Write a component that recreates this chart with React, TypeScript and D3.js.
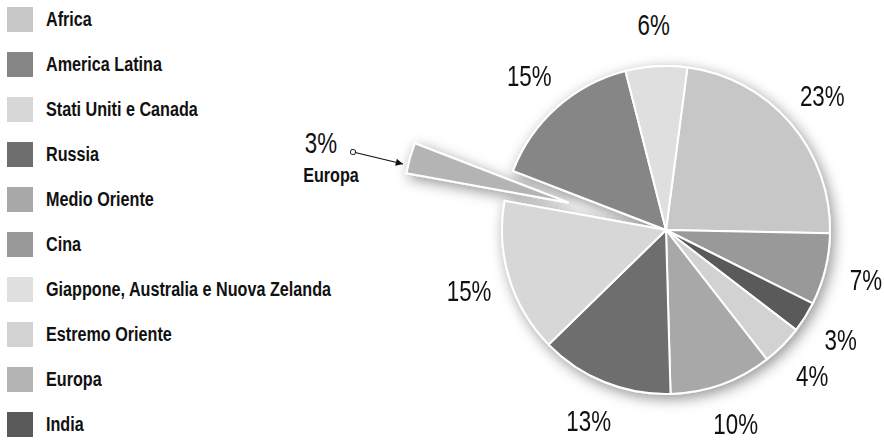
import React from "react";
import * as d3 from "d3";

const regions = [
  "Africa",
  "America Latina",
  "Stati Uniti e Canada",
  "Russia",
  "Medio Oriente",
  "Cina",
  "Giappone, Australia e Nuova Zelanda",
  "Estremo Oriente",
  "Europa",
  "India",
];
const shares = [23, 15, 15, 13, 10, 7, 6, 4, 3, 3];
const fills = [
  "#c7c7c7",
  "#868686",
  "#d7d7d7",
  "#6e6e6e",
  "#a8a8a8",
  "#999999",
  "#dfdfdf",
  "#d2d2d2",
  "#b4b4b4",
  "#5a5a5a",
];
const pieOrder = [
  "Africa",
  "Cina",
  "India",
  "Estremo Oriente",
  "Medio Oriente",
  "Russia",
  "Stati Uniti e Canada",
  "Europa",
  "America Latina",
  "Giappone, Australia e Nuova Zelanda",
];
const explodedRegion = "Europa";

const W = 884;
const H = 440;
const cx = 666;
const cy = 230;
const R = 164;
const labelR = 206;
const explodeDist = 102;
const startDeg = 7.5;
const FONT = "'Liberation Sans', Arial, sans-serif";
const SX = 0.77;

type Datum = { name: string; value: number; fill: string };

function NarrowText(props: {
  x: number;
  y: number;
  size: number;
  bold?: boolean;
  anchor?: "start" | "middle" | "end";
  dy?: string;
  children: React.ReactNode;
}) {
  const { x, y, size, bold, anchor = "start", dy, children } = props;
  return (
    <g transform={`translate(${x},${y}) scale(${SX},1)`}>
      <text
        x={0}
        y={0}
        dy={dy}
        fontSize={size}
        fontWeight={bold ? "bold" : "normal"}
        textAnchor={anchor}
        fill="#111"
      >
        {children}
      </text>
    </g>
  );
}

export default function App() {
  const data: Datum[] = pieOrder.map((n) => {
    const i = regions.indexOf(n);
    return { name: n, value: shares[i], fill: fills[i] };
  });
  const start = (startDeg * Math.PI) / 180;
  const pie = d3
    .pie<Datum>()
    .sort(null)
    .value((d) => d.value)
    .startAngle(start)
    .endAngle(start + 2 * Math.PI);
  const arcs = pie(data);
  const arc = d3.arc<d3.PieArcDatum<Datum>>().innerRadius(0).outerRadius(R);
  const labelArc = d3.arc<d3.PieArcDatum<Datum>>().innerRadius(labelR).outerRadius(labelR);

  const legendY = d3.scaleBand<string>().domain(regions).range([0, 450]).paddingInner(0);

  const ex = arcs.find((a) => a.data.name === explodedRegion)!;
  const exMid = (ex.startAngle + ex.endAngle) / 2;
  const exDx = Math.sin(exMid) * explodeDist;
  const exDy = -Math.cos(exMid) * explodeDist;

  return (
    <svg
      width={W}
      height={H}
      style={{ position: "absolute", left: 0, top: 0, background: "#fff" }}
      fontFamily={FONT}
    >
      <defs>
        <filter id="shadow" x="-30%" y="-30%" width="160%" height="160%">
          <feDropShadow dx="3" dy="4" stdDeviation="7" floodColor="#000" floodOpacity="0.42" />
        </filter>
        <marker id="arrowHead" viewBox="0 0 10 10" refX="10" refY="5" markerWidth="7" markerHeight="6" orient="auto">
          <path d="M0,0 L10,5 L0,10 z" fill="#111" />
        </marker>
        <marker id="sqStart" viewBox="0 0 10 10" refX="5" refY="5" markerWidth="5" markerHeight="5" orient="auto">
          <rect x="1" y="1" width="8" height="8" fill="#fff" stroke="#111" strokeWidth="1.5" />
        </marker>
      </defs>

      {/* legend */}
      <g>
        {regions.map((r, i) => {
          const y = (legendY(r) as number) + 7;
          return (
            <g key={r}>
              <rect x={7} y={y} width={26} height={25} fill={fills[i]} />
              <NarrowText x={46} y={y + 18.5} size={21} bold>
                {r}
              </NarrowText>
            </g>
          );
        })}
      </g>

      {/* pie */}
      <g transform={`translate(${cx},${cy})`}>
        <g filter="url(#shadow)">
          {arcs.map((a) => {
            const isEx = a.data.name === explodedRegion;
            return (
              <path
                key={a.data.name}
                d={arc(a) || ""}
                transform={isEx ? `translate(${exDx},${exDy})` : undefined}
                fill={a.data.fill}
                stroke="#fff"
                strokeWidth={2}
                strokeLinejoin="round"
              />
            );
          })}
        </g>
        {arcs
          .filter((a) => a.data.name !== explodedRegion)
          .map((a) => {
            const [lx, ly] = labelArc.centroid(a);
            return (
              <NarrowText key={a.data.name} x={lx} y={ly} dy="0.36em" anchor="middle" size={29}>
                {`${a.data.value}%`}
              </NarrowText>
            );
          })}
      </g>

      {/* Europa callout */}
      <g>
        <NarrowText x={321} y={153} anchor="middle" size={29}>
          {`${ex.data.value}%`}
        </NarrowText>
        <NarrowText x={331} y={182} anchor="middle" size={21} bold>
          {ex.data.name}
        </NarrowText>
        <line
          x1={353}
          y1={152}
          x2={403}
          y2={164}
          stroke="#111"
          strokeWidth={1.2}
          markerStart="url(#sqStart)"
          markerEnd="url(#arrowHead)"
        />
      </g>
    </svg>
  );
}
